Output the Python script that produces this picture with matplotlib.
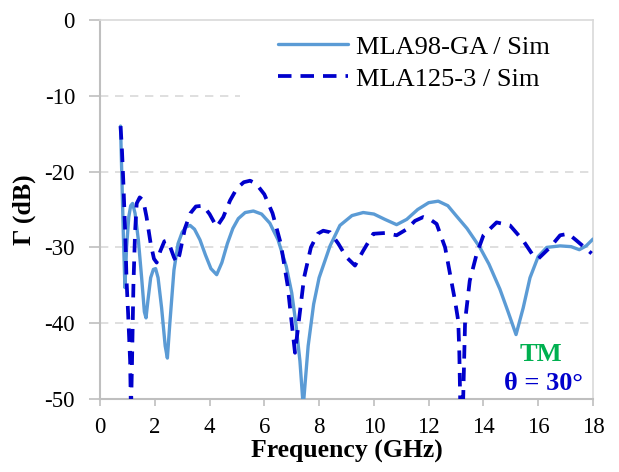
import numpy as np
import matplotlib.pyplot as plt
from matplotlib.patches import Rectangle

# reflection coefficient vs frequency, TM, 30 deg incidence
freq_ga = [0.75, 0.85, 0.91, 0.97, 1.05, 1.12, 1.19, 1.28, 1.4, 1.52, 1.62, 1.68,
           1.75, 1.85, 1.95, 2.03, 2.12, 2.25, 2.38, 2.46, 2.55, 2.7, 2.85, 3.0,
           3.15, 3.29, 3.45, 3.65, 3.85, 4.05, 4.26, 4.45, 4.65, 4.85, 5.05, 5.3,
           5.6, 5.9, 6.2, 6.5, 6.8, 7.0, 7.15, 7.3, 7.42, 7.6, 7.8, 8.0, 8.4,
           8.76, 9.2, 9.61, 10.0, 10.4, 10.83, 11.2, 11.6, 12.0, 12.35, 12.7, 13.0,
           13.4, 13.87, 14.2, 14.6, 14.9, 15.19, 15.45, 15.7, 16.0, 16.31, 16.8,
           17.2, 17.5, 17.75, 18.0]
gamma_ga = [-14.0, -28.0, -35.3, -30.0, -26.0, -24.5, -24.2, -25.5, -29.0, -34.0, -38.5, -39.3,
            -37.0, -34.0, -32.9, -32.8, -34.0, -38.0, -43.0, -44.6, -40.0, -33.0, -29.5, -28.0,
            -27.3, -27.1, -27.6, -29.0, -31.0, -32.8, -33.6, -32.0, -29.5, -27.5, -26.2, -25.4,
            -25.2, -25.6, -26.8, -29.0, -32.5, -36.0, -40.0, -45.0, -51.0, -43.0, -37.5, -34.0, -29.8,
            -27.1, -25.8, -25.4, -25.6, -26.3, -27.0, -26.3, -25.0, -24.1, -23.9, -24.5, -25.8,
            -27.5, -30.0, -32.2, -35.5, -38.5, -41.5, -38.0, -34.0, -31.2, -30.0, -29.8,
            -29.9, -30.3, -29.8, -28.9]

freq_125 = [0.75, 0.8, 0.85, 0.92, 0.97, 1.03, 1.1, 1.13, 1.17, 1.22, 1.28, 1.34,
            1.45, 1.58, 1.7, 1.85, 1.97, 2.07, 2.2, 2.35, 2.43, 2.55, 2.7, 2.8, 2.9,
            3.1, 3.3, 3.5, 3.77, 4.0, 4.26, 4.5, 4.75, 5.0, 5.25, 5.48, 5.7, 6.0,
            6.3, 6.6, 6.85, 7.0, 7.12, 7.25, 7.45, 7.7, 7.95, 8.15, 8.4, 8.7, 9.0,
            9.31, 9.6, 9.98, 10.4, 10.83, 11.2, 11.5, 11.8, 12.05, 12.29, 12.6, 12.78,
            12.96, 13.08, 13.12, 13.15, 13.2, 13.26, 13.33, 13.5, 13.75, 14.0, 14.48,
            14.97, 15.45, 15.82, 16.0, 16.43, 16.8, 17.1, 17.4, 17.95]
gamma_125 = [-14.0, -17.0, -21.2, -28.0, -34.4, -39.0, -45.0, -52.0, -45.0, -35.0, -28.0, -24.2,
             -23.4, -23.8, -26.0, -29.5, -31.5, -32.0, -30.5, -29.2, -29.1, -29.8, -31.3, -32.0, -31.0,
             -27.5, -25.5, -24.6, -24.5, -25.6, -27.3, -26.0, -23.8, -22.2, -21.4, -21.2, -21.6, -23.0,
             -25.5, -29.5, -35.0, -40.0, -43.9, -40.0, -34.0, -30.0, -28.2, -27.8, -28.0, -29.5, -31.3,
             -32.4, -30.5, -28.2, -28.1, -28.4, -27.6, -26.5, -26.0, -26.3, -26.9, -30.0, -33.5,
             -37.0, -39.7, -44.0, -50.0, -56.0, -50.0, -39.7, -34.4, -30.9, -28.4, -26.7,
             -27.1, -29.1, -31.1, -31.5, -30.0, -28.4, -28.2, -29.1, -30.8]

labels = ['MLA98-GA / Sim', 'MLA125-3 / Sim']
xticks = np.arange(0, 19, 2)
yticks = np.arange(-50, 1, 10)

plt.rcParams['font.family'] = ['Liberation Serif', 'DejaVu Serif']
plt.rcParams['axes.unicode_minus'] = False

fig = plt.figure(figsize=(6.19, 4.72), dpi=100)
ax = fig.add_axes([100 / 619, 1 - 399 / 472, 493 / 619, 379 / 472])

grid_c = '#d9d9d9'
axis_c = '#bfbfbf'
for y in yticks[1:-1]:
    ax.axhline(y, color=grid_c, lw=1.2, ls=(0, (5, 4)), zorder=0)
# white panel behind the legend
ax.add_patch(Rectangle((0.284, 0.785), 0.716, 0.215, transform=ax.transAxes,
                       facecolor='white', edgecolor='none', zorder=1))

ax.plot(freq_ga, gamma_ga, color='#5b9bd5', lw=2.4, label=labels[0], zorder=3,
        solid_joinstyle='round', solid_capstyle='round')
ax.plot(freq_125, gamma_125, color='#0000cc', lw=2.7, ls=(0, (3.6, 2.4)),
        label=labels[1], zorder=4)

ax.set_xlim(0, 18)
ax.set_ylim(-50, 0)
ax.set_xticks(xticks)
ax.set_yticks(yticks)
ax.tick_params(axis='x', direction='out', length=5, width=1.2, color=axis_c,
               labelsize=16.5, pad=8)
ax.tick_params(axis='y', direction='out', length=8, width=1.2, color=axis_c,
               labelsize=16.5, pad=10)

for side in ['left', 'bottom']:
    ax.spines[side].set_color(axis_c)
    ax.spines[side].set_linewidth(1.5)
for side in ['top', 'right']:
    ax.spines[side].set_color(grid_c)
    ax.spines[side].set_linewidth(1.2)

ax.set_xlabel('Frequency (GHz)', fontsize=18.5, fontweight='bold', labelpad=1.5)
ax.set_ylabel('Γ (dB)', fontsize=18.5, fontweight='bold', labelpad=6)

leg = ax.legend(loc='upper left', bbox_to_anchor=((278 - 100) / 493, 0.96),
                frameon=False, fontsize=19, handlelength=2.65, handletextpad=0.3,
                labelspacing=0.32, borderpad=0, borderaxespad=0)

ax.text(16.1, -44.1, 'TM', color='#00b050', fontsize=19, fontweight='bold',
        ha='center', va='center')
ax.text(16.2, -47.9, 'θ = 30°', color='#0000cc', fontsize=19, fontweight='bold',
        ha='center', va='center')

fig.savefig('out.png', dpi=100)
